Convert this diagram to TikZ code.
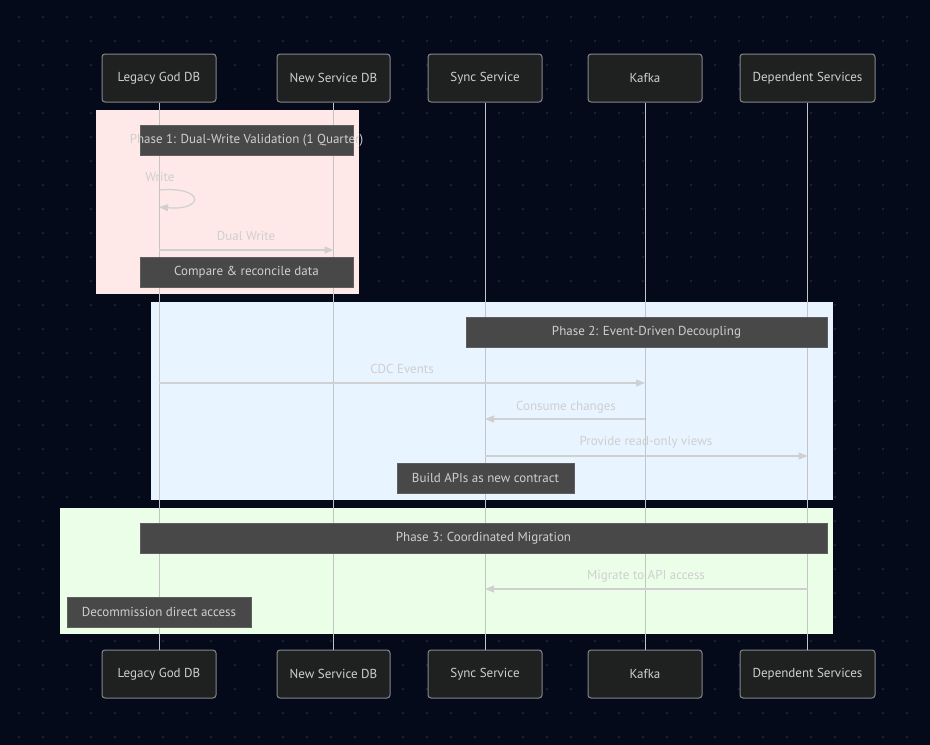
\documentclass[tikz,border=0pt]{standalone}
\usepackage{fontspec}
\setmainfont{PT Sans}
\usetikzlibrary{arrows.meta}
\definecolor{bgc}{HTML}{050A1A}
\definecolor{dotc}{HTML}{2A2F3E}
\definecolor{pfill}{HTML}{1F2020}
\definecolor{pline}{HTML}{84878A}
\definecolor{txtc}{HTML}{CFCFCF}
\definecolor{lifec}{HTML}{C4C4C4}
\definecolor{notefill}{HTML}{484848}
\definecolor{noteline}{HTML}{5E5E5E}
\definecolor{msgc}{HTML}{D0D0D0}
\definecolor{phaseA}{HTML}{FFE8E8}
\definecolor{phaseB}{HTML}{E8F4FF}
\definecolor{phaseC}{HTML}{EBFFE8}
\begin{document}
\begin{tikzpicture}[x=1pt,y=-1pt,
  font=\fontsize{13}{15}\selectfont,
  pbox/.style={draw=pline, line width=1pt, fill=pfill, rounded corners=3pt, text=txtc, minimum height=48pt, inner sep=0pt},
  notebox/.style={draw=noteline, line width=0.8pt, fill=notefill, text=txtc, minimum height=30pt, inner sep=0pt},
  lbl/.style={text=txtc, inner sep=0pt},
  lifeline/.style={draw=lifec, line width=1pt},
  msg/.style={draw=msgc, line width=1.2pt, -{Triangle[length=9pt,width=7pt]}},
]
\useasboundingbox (0,0) rectangle (930,745);
\fill[bgc] (0,0) rectangle (930,745);
\foreach \i in {0,...,38} \foreach \j in {0,...,30} \fill[dotc] (19+24*\i,17+24*\j) circle (1);

% phase rectangles
\fill[phaseA] (96,110) rectangle (359,294);
\fill[phaseB] (151,302) rectangle (833,500);
\fill[phaseC] (60,508) rectangle (833,634);

% participants
\node[pbox, minimum width=114pt] (lgT) at (159,78) {Legacy God DB};
\node[pbox, minimum width=113pt] (nsT) at (333.5,78) {New Service DB};
\node[pbox, minimum width=114pt] (ssT) at (485,78) {Sync Service};
\node[pbox, minimum width=114pt] (kfT) at (645,78) {Kafka};
\node[pbox, minimum width=135pt] (dsT) at (807.5,78) {Dependent Services};
\node[pbox, minimum width=114pt] (lgB) at (159,674) {Legacy God DB};
\node[pbox, minimum width=113pt] (nsB) at (333.5,674) {New Service DB};
\node[pbox, minimum width=114pt] (ssB) at (485,674) {Sync Service};
\node[pbox, minimum width=114pt] (kfB) at (645,674) {Kafka};
\node[pbox, minimum width=135pt] (dsB) at (807.5,674) {Dependent Services};

\foreach \p in {lg,ns,ss,kf,ds} \draw[lifeline] (\p T.south) -- (\p B.north);

% notes
\node[notebox, minimum width=213pt] (n1) at (246.5,140) {};
\node[lbl] (n1t) at (246.5,140) {Phase 1: Dual-Write Validation (1 Quarter)};
\node[notebox, minimum width=213pt] (n2) at (246.5,272) {Compare \& reconcile data};
\node[notebox, minimum width=361pt] (n3) at (646.5,332) {Phase 2: Event-Driven Decoupling};
\node[notebox, minimum width=177pt] (n4) at (485.5,478) {Build APIs as new contract};
\node[notebox, minimum width=687pt] (n5) at (483.5,538) {Phase 3: Coordinated Migration};
\node[notebox, minimum width=184pt] (n6) at (159,612) {Decommission direct access};

% message anchor points
\coordinate (w1) at (lgT.south |- 0,190);
\coordinate (w2) at (lgT.south |- 0,207);
\coordinate (d1) at (lgT.south |- 0,250);
\coordinate (d2) at (nsT.south |- 0,250);
\coordinate (c1) at (lgT.south |- 0,383);
\coordinate (c2) at (kfT.south |- 0,383);
\coordinate (k1) at (kfT.south |- 0,419);
\coordinate (k2) at (ssT.south |- 0,419);
\coordinate (r1) at (ssT.south |- 0,456);
\coordinate (r2) at (dsT.south |- 0,456);
\coordinate (a1) at (dsT.south |- 0,589);
\coordinate (a2) at (ssT.south |- 0,589);

% messages
\node[lbl] (lw) at (160,177) {Write};
\draw[msg] (w1) .. controls (205,186) and (205,211) .. (w2);
\node[lbl] (ld) at (246,236) {Dual Write};
\draw[msg] (d1) -- (d2);
\node[lbl] (lc) at (402,369) {CDC Events};
\draw[msg] (c1) -- (c2);
\node[lbl] (lk) at (566,407) {Consume changes};
\draw[msg] (k1) -- (k2);
\node[lbl] (lr) at (646,442) {Provide read-only views};
\draw[msg] (r1) -- (r2);
\node[lbl] (la) at (646,576) {Migrate to API access};
\draw[msg] (a1) -- (a2);
\end{tikzpicture}
\end{document}
